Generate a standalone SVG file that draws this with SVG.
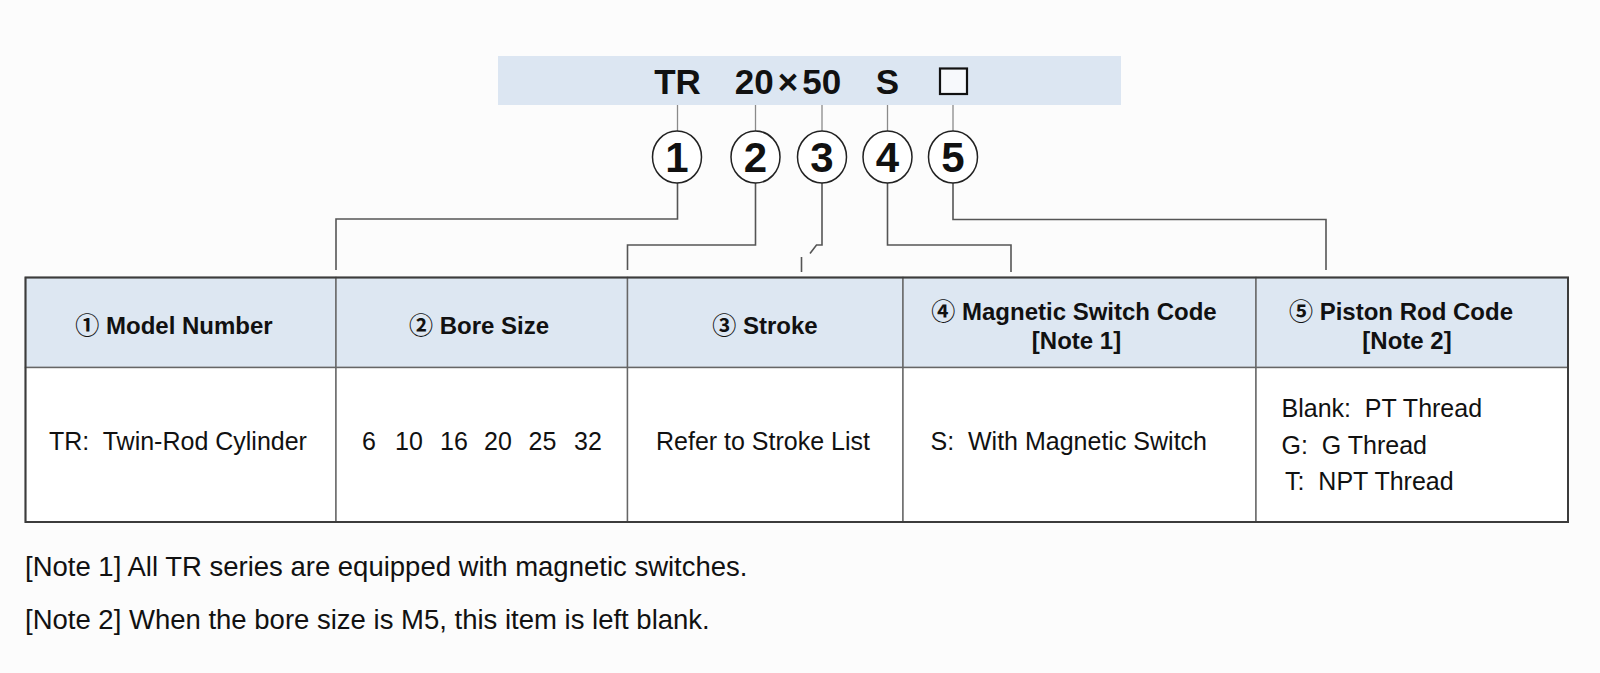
<svg xmlns="http://www.w3.org/2000/svg" width="1600" height="673" viewBox="0 0 1600 673">
<style>
.bg{fill:#fcfcfc}
.code{font-family:"Liberation Sans","Noto Sans CJK SC",sans-serif;font-weight:bold;font-size:35px;fill:#111;text-anchor:middle}
.badge{fill:#ffffff;stroke:#222;stroke-width:1.5}
.num{font-family:"Liberation Sans",sans-serif;font-weight:bold;font-size:42px;fill:#111;text-anchor:middle}
.tick{stroke:#8a8a8a;stroke-width:1.3;fill:none}
.conn{stroke:#555;stroke-width:1.6;fill:none}
.hdr{fill:#dde7f2;stroke:#666;stroke-width:1.4}
.cell{fill:#ffffff;stroke:#666;stroke-width:1.4}
.ht{font-family:"Liberation Sans","Noto Sans CJK SC",sans-serif;font-weight:bold;font-size:24px;fill:#111;text-anchor:middle}
.bt{font-family:"Liberation Sans","Noto Sans CJK SC",sans-serif;font-size:25px;fill:#111}
.note{font-family:"Liberation Sans",sans-serif;font-size:27.5px;fill:#111}
</style>
<rect class="bg" x="0" y="0" width="1600" height="673"/>

<g id="banner">
  <rect x="498" y="56" width="623" height="49" fill="#dce6f2"/>
  <text class="code" x="677.5" y="94">TR</text>
  <text class="code" x="788" y="94">20<tspan dx="4">×</tspan><tspan dx="4">50</tspan></text>
  <text class="code" x="887.5" y="94">S</text>
  <rect x="940" y="68.5" width="27" height="25.5" fill="#f7f9fc" stroke="#111" stroke-width="2.2"/>
</g>

<g id="connectors">
  <line class="tick" x1="677.5" y1="105" x2="677.5" y2="131"/>
  <line class="tick" x1="755.5" y1="105" x2="755.5" y2="131"/>
  <line class="tick" x1="822" y1="105" x2="822" y2="131"/>
  <line class="tick" x1="887.5" y1="105" x2="887.5" y2="131"/>
  <line class="tick" x1="953" y1="105" x2="953" y2="131"/>
  <polyline class="conn" points="677.5,183 677.5,219 336,219 336,270"/>
  <polyline class="conn" points="755.5,183 755.5,245 627.5,245 627.5,270"/>
  <polyline class="conn" points="822,183 822,245 816.5,245 810,253.5"/>
  <line class="conn" x1="801.5" y1="257" x2="801.5" y2="272"/>
  <polyline class="conn" points="887.5,183 887.5,245 1011,245 1011,272"/>
  <polyline class="conn" points="953,183 953,219.5 1326,219.5 1326,270"/>
</g>

<g id="badge-1"><ellipse class="badge" cx="677" cy="157" rx="24.5" ry="26"/><text class="num" x="677" y="172">1</text></g>
<g id="badge-2"><ellipse class="badge" cx="755.5" cy="157" rx="24.5" ry="26"/><text class="num" x="755.5" y="172">2</text></g>
<g id="badge-3"><ellipse class="badge" cx="822" cy="157" rx="24.5" ry="26"/><text class="num" x="822" y="172">3</text></g>
<g id="badge-4"><ellipse class="badge" cx="887.5" cy="157" rx="24.5" ry="26"/><text class="num" x="887.5" y="172">4</text></g>
<g id="badge-5"><ellipse class="badge" cx="953" cy="157" rx="24.5" ry="26"/><text class="num" x="953" y="172">5</text></g>

<g id="col-model">
  <rect class="hdr" x="25.5" y="277.5" width="310.5" height="90"/>
  <rect class="cell" x="25.5" y="367.5" width="310.5" height="154.5"/>
  <text class="ht" x="174" y="334">① Model Number</text>
  <text class="bt" x="49" y="450" xml:space="preserve">TR:  Twin-Rod Cylinder</text>
</g>
<g id="col-bore">
  <rect class="hdr" x="336" y="277.5" width="291.5" height="90"/>
  <rect class="cell" x="336" y="367.5" width="291.5" height="154.5"/>
  <text class="ht" x="479" y="334">② Bore Size</text>
  <text class="bt" y="450" text-anchor="middle"><tspan x="369">6</tspan><tspan x="409">10</tspan><tspan x="454">16</tspan><tspan x="498">20</tspan><tspan x="542.5">25</tspan><tspan x="588">32</tspan></text>
</g>
<g id="col-stroke">
  <rect class="hdr" x="627.5" y="277.5" width="275.5" height="90"/>
  <rect class="cell" x="627.5" y="367.5" width="275.5" height="154.5"/>
  <text class="ht" x="765" y="334">③ Stroke</text>
  <text class="bt" x="763" y="450" text-anchor="middle">Refer to Stroke List</text>
</g>
<g id="col-switch">
  <rect class="hdr" x="903" y="277.5" width="353" height="90"/>
  <rect class="cell" x="903" y="367.5" width="353" height="154.5"/>
  <text class="ht" x="1074" y="320">④ Magnetic Switch Code</text>
  <text class="ht" x="1076.5" y="349">[Note 1]</text>
  <text class="bt" x="930.5" y="450" xml:space="preserve">S:  With Magnetic Switch</text>
</g>
<g id="col-rod">
  <rect class="hdr" x="1256" y="277.5" width="312" height="90"/>
  <rect class="cell" x="1256" y="367.5" width="312" height="154.5"/>
  <text class="ht" x="1401" y="320">⑤ Piston Rod Code</text>
  <text class="ht" x="1407" y="349">[Note 2]</text>
  <text class="bt" x="1281.5" y="417" xml:space="preserve">Blank:  PT Thread</text>
  <text class="bt" x="1281.5" y="453.5" xml:space="preserve">G:  G Thread</text>
  <text class="bt" x="1285" y="490" xml:space="preserve">T:  NPT Thread</text>
</g>
<rect x="25.5" y="277.5" width="1542.5" height="244.5" fill="none" stroke="#3c3c3c" stroke-width="2"/>

<g id="notes">
  <text class="note" x="25" y="576">[Note 1] All TR series are equipped with magnetic switches.</text>
  <text class="note" x="25" y="629">[Note 2] When the bore size is M5, this item is left blank.</text>
</g>
</svg>
